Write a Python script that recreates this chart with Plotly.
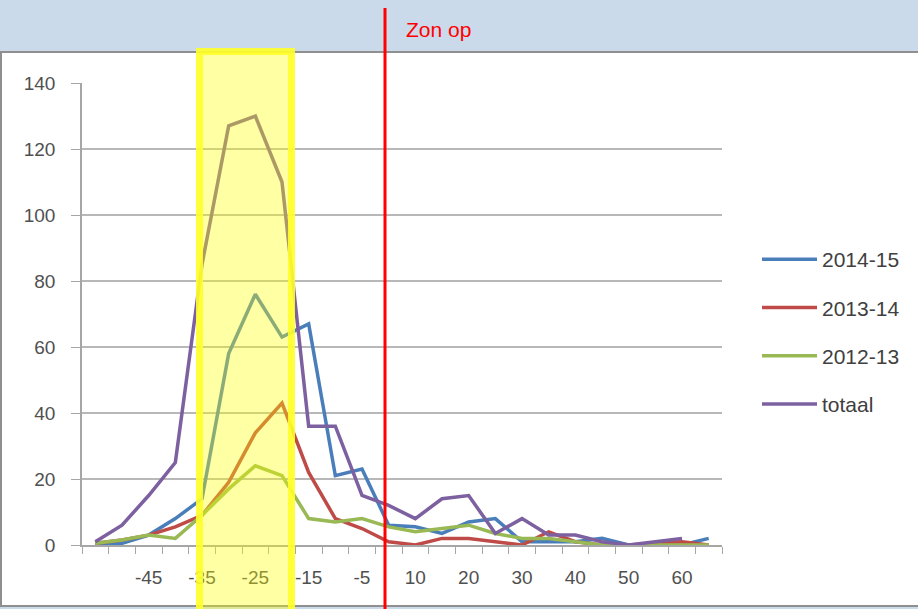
import plotly.graph_objects as go

categories = ["-55", "-50", "-45", "-40", "-35", "-30", "-25", "-20", "-15", "-10", "-5",
              "5", "10", "15", "20", "25", "30", "35", "40", "45", "50", "55", "60", "65"]
tick_labels = ["-45", "-35", "-25", "-15", "-5", "10", "20", "30", "40", "50", "60"]

s2014_15 = [0, 0.5, 3, 8, 14, 58, 76, 63, 67, 21, 23, 6, 5.5, 3.5, 7, 8, 1, 1, 1, 2, 0, 0, 0, 2]
s2013_14 = [0.5, 1.5, 3, 5.5, 9, 19, 34, 43, 22, 8, 5, 1, 0, 2, 2, 1, 0, 4, 1, 0, 0, 0.5, 1, 0]
s2012_13 = [0.5, 1.5, 3, 2, 9, 17, 24, 21, 8, 7, 8, 5.5, 4, 5, 6, 3.5, 2, 2, 1, 0, 0, 0, 0, 0]
totaal = [1, 6, 15, 25, 85, 127, 130, 110, 36, 36, 15, 12, 8, 14, 15, 3.5, 8, 3, 3, 1, 0, 1, 2, None]

series = [
    ("2014-15", s2014_15, "#4a7ebb"),
    ("2013-14", s2013_14, "#be4b48"),
    ("2012-13", s2012_13, "#98b954"),
    ("totaal", totaal, "#7d60a0"),
]

W, H = 918, 609
L, R, T, B = 82, 196, 83, 64
PW, PH = W - L - R, H - T - B


def px_x(p):
    return (p - L) / PW


def px_y(p):
    return (H - B - p) / PH


fig = go.Figure()
for name, vals, col in series:
    fig.add_trace(go.Scatter(
        x=categories, y=vals, name=name, mode="lines",
        line=dict(color=col, width=3.5), legendgroup=name,
        connectgaps=False,
    ))

font_main = "Liberation Sans, Arial, sans-serif"

fig.update_layout(
    width=W, height=H,
    margin=dict(l=L, r=R, t=T, b=B),
    paper_bgcolor="#cbdaea",
    plot_bgcolor="white",
    font=dict(family=font_main, color="#505050", size=19),
    showlegend=True,
    legend=dict(
        x=px_x(757), xanchor="left", y=px_y(332), yanchor="middle",
        font=dict(size=21, color="#404040"),
        bgcolor="rgba(0,0,0,0)", tracegroupgap=18, itemwidth=55,
        traceorder="grouped",
    ),
    xaxis=dict(
        type="category", categoryorder="array", categoryarray=categories,
        range=[-0.5, len(categories) - 0.5],
        tickvals=categories,
        ticktext=[c if c in tick_labels else "" for c in categories],
        tickson="boundaries", ticks="outside", ticklen=7, tickcolor="#a6a6a6",
        tickangle=0,
        showline=True, linecolor="#a6a6a6", linewidth=1.5,
        showgrid=False, zeroline=False, ticklabelstandoff=14,
        tickfont=dict(size=19, color="#505050"),
    ),
    yaxis=dict(
        range=[0, 140], dtick=20, tick0=0,
        ticks="outside", ticklen=9, tickcolor="#a6a6a6",
        showline=True, linecolor="#a6a6a6", linewidth=1.5,
        showgrid=True, gridcolor="#b8b8b8", gridwidth=1.5,
        zeroline=False, ticklabelstandoff=12,
        tickfont=dict(size=19, color="#505050"),
    ),
)

shapes = [
    # white chart panel
    dict(type="rect", xref="paper", yref="paper", layer="below",
         x0=px_x(1), x1=px_x(925), y0=px_y(606), y1=px_y(52),
         fillcolor="white", line=dict(color="#8f8f8f", width=2)),
    # highlighted band
    dict(type="rect", xref="paper", yref="paper", layer="above",
         x0=px_x(199.5), x1=px_x(291.5), y0=px_y(620), y1=px_y(51.5),
         fillcolor="rgba(255,255,0,0.36)", line=dict(color="rgba(255,255,40,0.9)", width=7)),
    # sunrise line
    dict(type="line", xref="paper", yref="paper", layer="above",
         x0=px_x(385), x1=px_x(385), y0=px_y(612), y1=px_y(8),
         line=dict(color="#ff0000", width=3)),
]
fig.update_layout(shapes=shapes)

fig.add_annotation(
    xref="paper", yref="paper", x=px_x(404), y=px_y(30),
    xanchor="left", yanchor="middle", showarrow=False,
    text="Zon op", font=dict(family=font_main, size=21, color="#ff0000"),
)

fig.write_html(
    "out.html",
    config={"displayModeBar": False},
    post_script="document.body.style.margin='0';document.body.style.padding='0';",
)
